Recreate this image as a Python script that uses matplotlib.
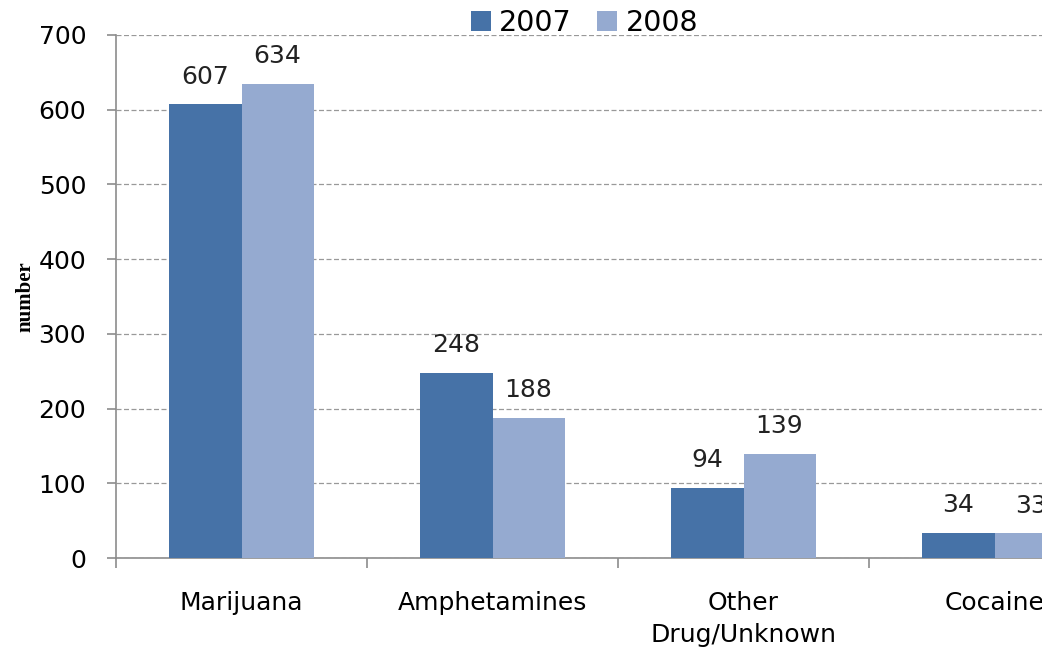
import matplotlib
matplotlib.use("Agg")
import matplotlib.pyplot as plt
import numpy as np

categories = ["Marijuana", "Amphetamines", "Other\nDrug/Unknown", "Cocaine"]
years = ["2007", "2008"]
vals_2007 = [607, 248, 94, 34]
vals_2008 = [634, 188, 139, 33]

c07 = "#4672A7"
c08 = "#95AAD0"
grey = "#8C8C8C"

plt.rcParams['font.family'] = ['DejaVu Sans']

fig = plt.figure(figsize=(10.42, 6.5), dpi=100)
# the plot runs past the right edge of the figure, so the last group is cut off
ax = fig.add_axes([116/1042, 92/650, 1004/1042, 523/650])

x = np.arange(len(categories))
w = 0.287
b1 = ax.bar(x - w/2, vals_2007, w, color=c07, label=years[0], zorder=3)
b2 = ax.bar(x + w/2, vals_2008, w, color=c08, label=years[1], zorder=3)

for bars, vals in ((b1, vals_2007), (b2, vals_2008)):
    for r, v in zip(bars, vals):
        ax.annotate(str(v), (r.get_x() + r.get_width()/2, v),
                    xytext=(0, 15), textcoords="offset points",
                    ha="center", va="baseline", fontsize=18, color="#222222")

ax.set_xlim(-0.5, len(categories) - 0.5)
ax.set_ylim(0, 700)
ax.set_yticks(np.arange(0, 701, 100))
ax.yaxis.grid(True, linestyle=(0, (4, 2)), color="#999999", linewidth=0.9, zorder=0)

# group boundaries get the tick marks, names sit in the middle
ax.set_xticks(np.arange(-0.5, len(categories), 1.0))
ax.set_xticklabels([])
ax.set_xticks(x, minor=True)
ax.set_xticklabels(categories, minor=True, fontsize=18, linespacing=1.4)
ax.tick_params(axis="x", which="major", length=7, color=grey, width=1.2)
ax.tick_params(axis="x", which="minor", length=0, pad=24)
ax.tick_params(axis="y", length=6.5, color=grey, width=1.2, pad=15, labelsize=18)

for s in ("top", "right"):
    ax.spines[s].set_visible(False)
for s in ("left", "bottom"):
    ax.spines[s].set_color(grey)
    ax.spines[s].set_linewidth(1.2)

ax.set_ylabel("number", family="Liberation Serif", fontweight="bold", fontsize=15)
ax.yaxis.set_label_coords((35 - 116) / 1004, (558 - 297) / 523)

fig.legend(handles=[b1, b2], labels=years, loc="center", ncol=2,
           bbox_to_anchor=(584.5/1042, 1 - 23/650), frameon=False,
           fontsize=20.5, handlelength=0.7, handleheight=0.7,
           handletextpad=0.3, columnspacing=0.9, borderaxespad=0)

fig.savefig("out.png", dpi=100)
